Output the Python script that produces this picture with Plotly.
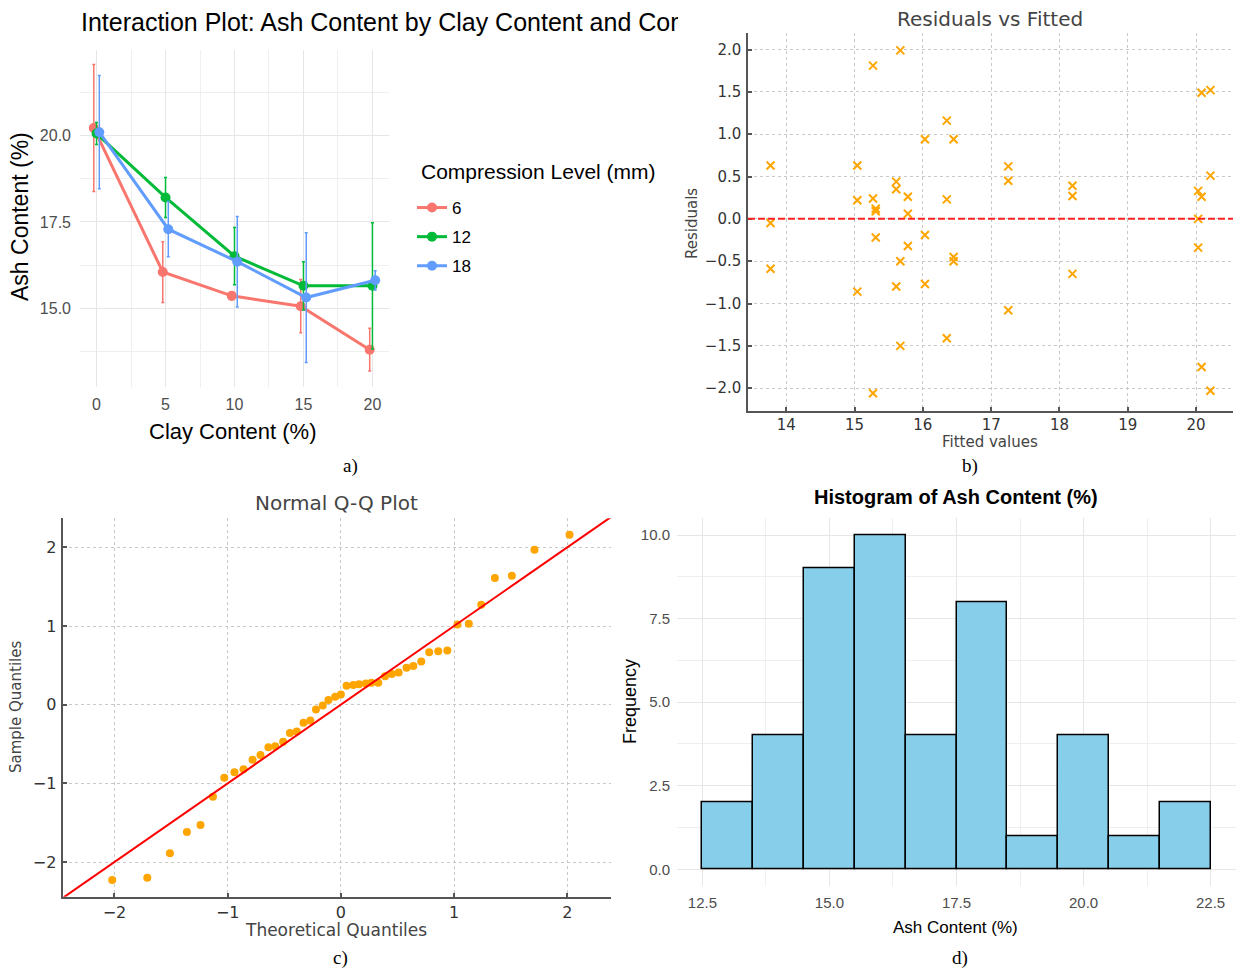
import plotly.graph_objects as go

# ---------------- data ----------------
# a) interaction plot
clay_levels = [0, 5, 10, 15, 20]
compression_levels = ["6", "12", "18"]
ash_mean_6 = [20.22, 16.05, 15.36, 15.06, 13.80]
ash_err_6 = [1.84, 0.88, 0.12, 0.77, 0.62]
ash_mean_12 = [20.06, 18.21, 16.51, 15.65, 15.65]
ash_err_12 = [0.32, 0.58, 0.83, 0.70, 1.83]
ash_mean_18 = [20.10, 17.29, 16.35, 15.31, 15.81]
ash_err_18 = [1.64, 0.80, 1.31, 1.88, 0.28]

# b) residuals vs fitted
fitted_values = [13.77, 13.77, 13.77, 15.04, 15.04, 15.04, 15.27, 15.27, 15.27,
                 15.31, 15.31, 15.31, 15.61, 15.61, 15.61, 15.67, 15.67, 15.67,
                 15.78, 15.78, 15.78, 16.03, 16.03, 16.03, 16.35, 16.35, 16.35,
                 16.45, 16.45, 16.45, 17.25, 17.25, 17.25, 18.19, 18.19, 18.19,
                 20.03, 20.03, 20.03, 20.08, 20.08, 20.08, 20.21, 20.21, 20.21]
residuals = [0.63, -0.05, -0.59, 0.63, 0.22, -0.86, 1.81, 0.24, -2.06,
             0.12, 0.09, -0.22, 0.44, 0.35, -0.80, 1.99, -0.50, -1.50,
             0.26, 0.06, -0.32, 0.94, -0.19, -0.77, 1.16, 0.23, -1.41,
             0.94, -0.45, -0.50, 0.62, 0.45, -1.08, 0.39, 0.27, -0.65,
             0.33, 0.00, -0.34, 1.49, 0.26, -1.75, 1.52, 0.51, -2.03]

# c) normal Q-Q plot
theoretical_q = [-2.02, -1.71, -1.51, -1.36, -1.24, -1.13, -1.03, -0.94, -0.86,
                 -0.78, -0.71, -0.64, -0.58, -0.51, -0.45, -0.39, -0.33, -0.27,
                 -0.22, -0.16, -0.11, -0.05, 0.00, 0.05, 0.11, 0.16, 0.22, 0.27,
                 0.33, 0.39, 0.45, 0.51, 0.58, 0.64, 0.71, 0.78, 0.86, 0.94,
                 1.03, 1.13, 1.24, 1.36, 1.51, 1.71, 2.02]
sample_q = [-2.23, -2.20, -1.89, -1.62, -1.53, -1.17, -0.93, -0.86, -0.82,
            -0.70, -0.64, -0.54, -0.53, -0.47, -0.36, -0.34, -0.23, -0.20,
            -0.06, -0.01, 0.06, 0.10, 0.13, 0.24, 0.25, 0.26, 0.27, 0.28,
            0.28, 0.36, 0.39, 0.41, 0.47, 0.49, 0.55, 0.665, 0.68, 0.69,
            1.02, 1.03, 1.27, 1.61, 1.64, 1.97, 2.16]

# d) histogram
bin_left_edges = [12.5, 13.5, 14.5, 15.5, 16.5, 17.5, 18.5, 19.5, 20.5, 21.5]
bin_width = 1.0
frequency = [2, 4, 9, 10, 4, 8, 1, 4, 1, 2]

# ---------------- figure ----------------
W, H = 1239, 971
def px(x):
    return x / W
def py(y):
    return 1 - y / H

GG = "Liberation Sans, Arial, sans-serif"
MPL = "DejaVu Sans, sans-serif"
SERIF = "Liberation Serif, Times New Roman, serif"
group_colors = {"6": "#F8766D", "12": "#00BA38", "18": "#619CFF"}
dodge = {"6": -0.2, "12": 0.0, "18": 0.2}

fig = go.Figure()

for lvl, means, errs in zip(compression_levels,
                            [ash_mean_6, ash_mean_12, ash_mean_18],
                            [ash_err_6, ash_err_12, ash_err_18]):
    c = group_colors[lvl]
    fig.add_trace(go.Scatter(
        x=[v + dodge[lvl] for v in clay_levels], y=means, name=lvl,
        legendgroup=lvl,
        mode="lines+markers", line=dict(color=c, width=3),
        marker=dict(color=c, size=10),
        error_y=dict(type="data", array=errs, color=c, thickness=1.5, width=1.5),
        xaxis="x", yaxis="y", showlegend=True))

fig.add_trace(go.Scatter(
    x=fitted_values, y=residuals, mode="markers",
    marker=dict(symbol="x-thin", size=8, line=dict(color="#FFA500", width=2), color="#FFA500"),
    xaxis="x2", yaxis="y2", showlegend=False))

qq_range = [-2.452, 2.386]
fig.add_trace(go.Scatter(
    x=theoretical_q, y=sample_q, mode="markers",
    marker=dict(color="#FFA500", size=8),
    xaxis="x3", yaxis="y3", showlegend=False))
fig.add_trace(go.Scatter(
    x=qq_range, y=qq_range, mode="lines", line=dict(color="red", width=2),
    xaxis="x3", yaxis="y3", showlegend=False))

fig.add_trace(go.Bar(
    x=bin_left_edges, y=frequency, width=bin_width, offset=0,
    marker=dict(color="#87CEEB", line=dict(color="black", width=1.5)),
    xaxis="x4", yaxis="y4", showlegend=False))

gg_tick = dict(family=GG, size=16, color="#4D4D4D")
mpl_tick = dict(family=MPL, size=15, color="#333333")
gg_major = dict(showgrid=True, gridcolor="#E6E6E6", gridwidth=1.2, zeroline=False,
                showline=False, ticks="")
mpl_axis = dict(showgrid=True, gridcolor="#C8C8C8", gridwidth=1, griddash="dot",
                zeroline=False, showline=True, linecolor="#555555", linewidth=1.5,
                ticks="inside", ticklen=4, tickwidth=1.5, tickcolor="#555555",
                mirror=False)

fig.update_layout(
    width=W, height=H, margin=dict(l=0, r=0, t=0, b=0),
    paper_bgcolor="white", plot_bgcolor="white", template="none",
    bargap=0,
    xaxis=dict(domain=[px(80), px(389)], range=[-1.2, 21.2], anchor="y",
               tickvals=clay_levels, tickfont=gg_tick,
               minor=dict(tickvals=[2.5, 7.5, 12.5, 17.5], showgrid=True,
                          gridcolor="#EFEFEF", gridwidth=0.8),
               ticklabelstandoff=6, **gg_major),
    yaxis=dict(domain=[py(387), py(50)], range=[12.72, 22.48], anchor="x",
               tickvals=[15, 17.5, 20], tickformat=".1f", tickfont=gg_tick,
               minor=dict(tickvals=[13.75, 16.25, 18.75, 21.25], showgrid=True,
                          gridcolor="#EFEFEF", gridwidth=0.8),
               ticklabelstandoff=8, **gg_major),
    xaxis2=dict(domain=[px(748), px(1233)], range=[13.44, 20.54], anchor="y2",
                tickvals=[14, 15, 16, 17, 18, 19, 20], tickfont=mpl_tick,
                ticklabelstandoff=0, **mpl_axis),
    yaxis2=dict(domain=[py(410.7), py(33)], range=[-2.266, 2.195], anchor="x2",
                tickvals=[-2, -1.5, -1, -0.5, 0, 0.5, 1, 1.5, 2], tickformat=".1f",
                tickfont=mpl_tick, ticklabelstandoff=2, **mpl_axis),
    xaxis3=dict(domain=[px(63.3), px(611)], range=qq_range, anchor="y3",
                tickvals=[-2, -1, 0, 1, 2], tickfont=dict(family=MPL, size=16, color="#333333"),
                ticklabelstandoff=0, **mpl_axis),
    yaxis3=dict(domain=[py(896.7), py(518.3)], range=[-2.441, 2.369], anchor="x3",
                tickvals=[-2, -1, 0, 1, 2], tickfont=dict(family=MPL, size=16, color="#333333"),
                ticklabelstandoff=2, **mpl_axis),
    xaxis4=dict(domain=[px(677), px(1236)], range=[12, 23], anchor="y4",
                tickvals=[12.5, 15, 17.5, 20, 22.5], tickformat=".1f",
                tickfont=dict(family=GG, size=15, color="#4D4D4D"),
                minor=dict(tickvals=[13.75, 16.25, 18.75, 21.25], showgrid=True,
                           gridcolor="#EFEFEF", gridwidth=0.8),
                ticklabelstandoff=6, **gg_major),
    yaxis4=dict(domain=[py(886), py(518.3)], range=[-0.5, 10.5], anchor="x4",
                tickvals=[0, 2.5, 5, 7.5, 10], tickformat=".1f",
                tickfont=dict(family=GG, size=15, color="#4D4D4D"),
                minor=dict(tickvals=[1.25, 3.75, 6.25, 8.75], showgrid=True,
                           gridcolor="#EFEFEF", gridwidth=0.8),
                ticklabelstandoff=6, **gg_major),
    legend=dict(x=px(412), y=py(190), xanchor="left", yanchor="top",
                font=dict(family=GG, size=17, color="black"), bgcolor="rgba(0,0,0,0)",
                itemwidth=30, tracegroupgap=4),
    showlegend=True,
)

# red dashed zero line in residual plot
fig.add_shape(type="line", xref="x2 domain", yref="y2", x0=0, x1=1, y0=0, y1=0,
              line=dict(color="#FF2020", width=2, dash="7px,3px"))

def ann(text, x, y, size, family, color="black", angle=0, bold=False,
        xanchor="center", yanchor="middle", **kw):
    t = f"<b>{text}</b>" if bold else text
    fig.add_annotation(text=t, x=px(x), y=py(y), xref="paper", yref="paper",
                       showarrow=False, textangle=angle, xanchor=xanchor, yanchor=yanchor,
                       font=dict(family=family, size=size, color=color), **kw)

# panel a
ann("Interaction Plot: Ash Content by Clay Content and Compression Level", 79, 22, 25, GG,
    xanchor="left", width=597, align="left")
ann("Clay Content (%)", 233, 431, 22, GG)
ann("Ash Content (%)", 20, 217, 23, GG, angle=-90)
ann("Compression Level (mm)", 419, 172, 21, GG, xanchor="left")
# panel b
ann("Residuals vs Fitted", 990, 19, 20, MPL, color="#444444")
ann("Fitted values", 990, 442, 15, MPL, color="#444444")
ann("Residuals", 692, 223, 15, MPL, color="#444444", angle=-90)
# panel c
ann("Normal Q-Q Plot", 336, 503, 20, MPL, color="#444444")
ann("Theoretical Quantiles", 336, 930, 17, MPL, color="#444444")
ann("Sample Quantiles", 16, 707, 15, MPL, color="#444444", angle=-90)
# panel d
ann("Histogram of Ash Content (%)", 956, 497, 20, GG, bold=True)
ann("Ash Content (%)", 956, 927, 17, GG)
ann("Frequency", 630, 702, 18, GG, angle=-90)
# panel labels
ann("a)", 350, 466, 19, SERIF)
ann("b)", 970, 466, 19, SERIF)
ann("c)", 340, 958, 19, SERIF)
ann("d)", 960, 958, 19, SERIF)

fig.write_html("out.html")
